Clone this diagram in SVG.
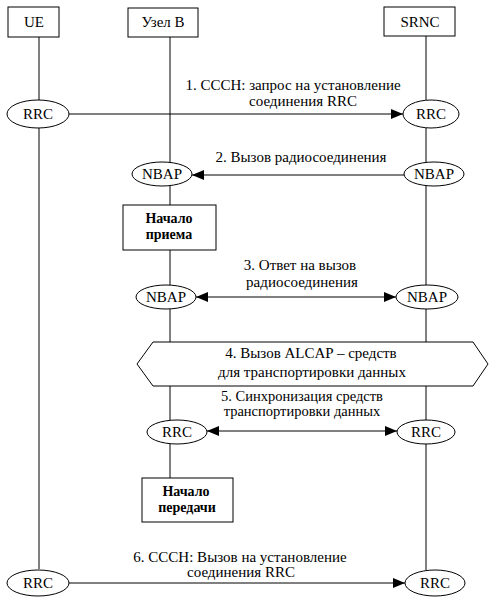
<svg xmlns="http://www.w3.org/2000/svg" width="496" height="606" viewBox="0 0 496 606">
<defs>
<marker id="ah" markerUnits="userSpaceOnUse" markerWidth="13" markerHeight="11" refX="12" refY="5" orient="auto-start-reverse">
<path d="M0,0 L12,5 L0,10 z" fill="#000"/>
</marker>
<style>
.n{fill:#fff;stroke:#000;stroke-width:1}
.l{stroke:#000;stroke-width:1;fill:none}
.t{font-family:"Liberation Serif","DejaVu Serif",serif;font-size:15px;fill:#000;text-anchor:middle}
.s{font-family:"Liberation Serif","DejaVu Serif",serif;font-size:14.5px;fill:#000;text-anchor:middle}
.b{font-family:"Liberation Serif","DejaVu Serif",serif;font-size:14px;font-weight:bold;fill:#000;text-anchor:middle}
.a{stroke:#000;stroke-width:1;fill:none;marker-end:url(#ah)}
.a2{stroke:#000;stroke-width:1;fill:none;marker-end:url(#ah);marker-start:url(#ah)}
</style>
</defs>
<rect width="496" height="606" fill="#fff"/>
<g id="lifelines">
<path class="l" d="M39,37V100M39,128V569"/>
<path class="l" d="M170,37V162M170,186V205M170,250V285M170,309V342M170,386V420M170,444V478"/>
<path class="l" d="M426,36V100M426,128V162M426,186V285M426,309V342M426,386V420M426,444V570"/>
</g>
<g id="ue"><rect class="n" x="8" y="7" width="51" height="30"/><text class="t" x="34" y="27">UE</text></g>
<g id="nodeb"><rect class="n" x="128" y="8" width="70" height="29"/><text class="t" x="163" y="27">Узел В</text></g>
<g id="srnc"><rect class="n" x="384" y="7" width="71" height="29"/><text class="t" x="420" y="27">SRNC</text></g>
<g id="hex"><polygon class="n" points="137,364 153,342 473,342 488,364 473,386 153,386"/>
<text class="t" x="311" y="358">4. Вызов ALCAP – средств</text>
<text class="t" x="312" y="377">для транспортировки данных</text></g>
<g id="rrc-ue-1"><ellipse class="n" cx="38" cy="114" rx="31" ry="14"/><text class="t" x="38" y="119">RRC</text></g>
<g id="rrc-srnc-1"><ellipse class="n" cx="431" cy="114" rx="28" ry="14"/><text class="t" x="431" y="119">RRC</text></g>
<g id="nbap-b-1"><ellipse class="n" cx="162" cy="174" rx="30" ry="12"/><text class="t" x="162" y="179">NBAP</text></g>
<g id="nbap-srnc-1"><ellipse class="n" cx="434" cy="174" rx="30" ry="12"/><text class="t" x="434" y="179">NBAP</text></g>
<g id="start-rx"><rect class="n" x="123" y="205" width="93" height="45"/><text class="b" x="169" y="223">Начало</text><text class="b" x="169" y="239">приема</text></g>
<g id="nbap-b-2"><ellipse class="n" cx="166" cy="297" rx="30" ry="12"/><text class="t" x="166" y="302">NBAP</text></g>
<g id="nbap-srnc-2"><ellipse class="n" cx="427" cy="297" rx="31" ry="12"/><text class="t" x="427" y="302">NBAP</text></g>
<g id="rrc-b-5"><ellipse class="n" cx="177" cy="432" rx="30" ry="12"/><text class="t" x="177" y="437">RRC</text></g>
<g id="rrc-srnc-5"><ellipse class="n" cx="426" cy="432" rx="29" ry="12"/><text class="t" x="426" y="437">RRC</text></g>
<g id="start-tx"><rect class="n" x="142" y="478" width="91" height="44"/><text class="b" x="186" y="496">Начало</text><text class="b" x="187" y="512">передачи</text></g>
<g id="rrc-ue-6"><ellipse class="n" cx="38" cy="583" rx="31" ry="13"/><text class="t" x="38" y="588">RRC</text></g>
<g id="rrc-srnc-6"><ellipse class="n" cx="435" cy="583" rx="30" ry="13"/><text class="t" x="435" y="588">RRC</text></g>
<g id="connectors">
<line class="a" x1="69" y1="114" x2="403" y2="114"/>
<line class="a" x1="404" y1="175" x2="192" y2="175"/>
<line class="a2" x1="196" y1="297" x2="396" y2="297"/>
<line class="a2" x1="207" y1="431" x2="397" y2="431"/>
<line class="a" x1="69" y1="583" x2="405" y2="583"/>
<text class="t" x="293" y="90">1. CCCH: запрос на установление</text>
<text class="t" x="303" y="106">соединения RRC</text>
<text class="t" x="301" y="162">2. Вызов радиосоединения</text>
<text class="t" x="300" y="270">3. Ответ на вызов</text>
<text class="t" x="302" y="287">радиосоединения</text>
<text class="s" x="302" y="401">5. Синхронизация средств</text>
<text class="s" x="302" y="416">транспортировки данных</text>
<text class="t" x="240" y="562">6. CCCH: Вызов на установление</text>
<text class="t" x="241" y="577">соединения RRC</text>
</g>
</svg>
